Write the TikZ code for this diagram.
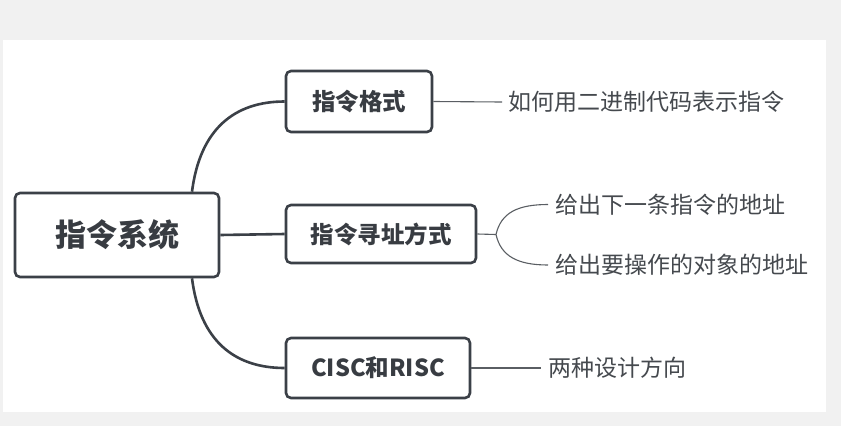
\documentclass[tikz,border=0pt]{standalone}
\usepackage{fontspec}
\newfontfamily\cjk{Noto Sans CJK SC}
\usetikzlibrary{calc}
\definecolor{bgc}{HTML}{F1F1F1}
\definecolor{linec}{HTML}{3B4047}
\definecolor{thinc}{HTML}{5A5E63}
\definecolor{txt}{HTML}{383C42}
\definecolor{leaftxt}{HTML}{45494E}
\begin{document}
\begin{tikzpicture}[x=1pt,y=-1pt,
  box/.style={draw=linec, line width=2.6pt, rounded corners=5pt, fill=white, text=txt,
    font=\cjk\bfseries\fontsize{23.5}{27}\selectfont, inner sep=0pt},
  leaf/.style={text=leaftxt, font=\cjk\fontsize{23}{27}\selectfont, anchor=west, inner sep=0pt},
  thickc/.style={draw=linec, line width=2.6pt},
  thinc/.style={draw=thinc, line width=1.1pt}]
\fill[bgc] (0,0) rectangle (841,426);
\fill[white] (3,40) rectangle (826,412);
\useasboundingbox (0,0) rectangle (841,426);

\node[box, minimum width=204pt, minimum height=84pt,
  font=\cjk\bfseries\fontsize{31}{35}\selectfont] (root) at (117,235) {指令系统};
\node[box, minimum width=146pt, minimum height=61pt] (a) at (359,101.5) {指令格式};
\node[box, minimum width=190pt, minimum height=58pt] (b) at (381,234) {指令寻址方式};
\node[box, minimum width=184pt, minimum height=60pt] (c) at (378,368) {CISC和RISC};

\draw[thickc] ($(root.north)+(75,0)$) .. controls +(8,-63) and +(-50,0) .. (a.west);
\draw[thickc] (root.east) -- (b.west);
\draw[thickc] ($(root.south)+(75,0)$) .. controls +(8,63) and +(-50,0) .. (c.west);

\node[leaf] (a1) at (508,102) {如何用二进制代码表示指令};
\draw[thinc] (a.east) -- ($(a1.west)+(-6,0)$);

\coordinate (bj) at (496,234.5);
\node[leaf] (b1) at (555,204.5) {给出下一条指令的地址};
\node[leaf] (b2) at (555,265) {给出要操作的对象的地址};
\draw[thinc] (b.east) -- (bj);
\draw[thinc] (bj) .. controls +(5,-22) and +(-30,0) .. ($(b1.west)+(-7,0)$);
\draw[thinc] (bj) .. controls +(5,22) and +(-30,0) .. ($(b2.west)+(-7,0)$);

\node[leaf] (c1) at (548,368) {两种设计方向};
\draw[thinc] (c.east) -- ($(c1.west)+(-7,0)$);
\end{tikzpicture}
\end{document}
